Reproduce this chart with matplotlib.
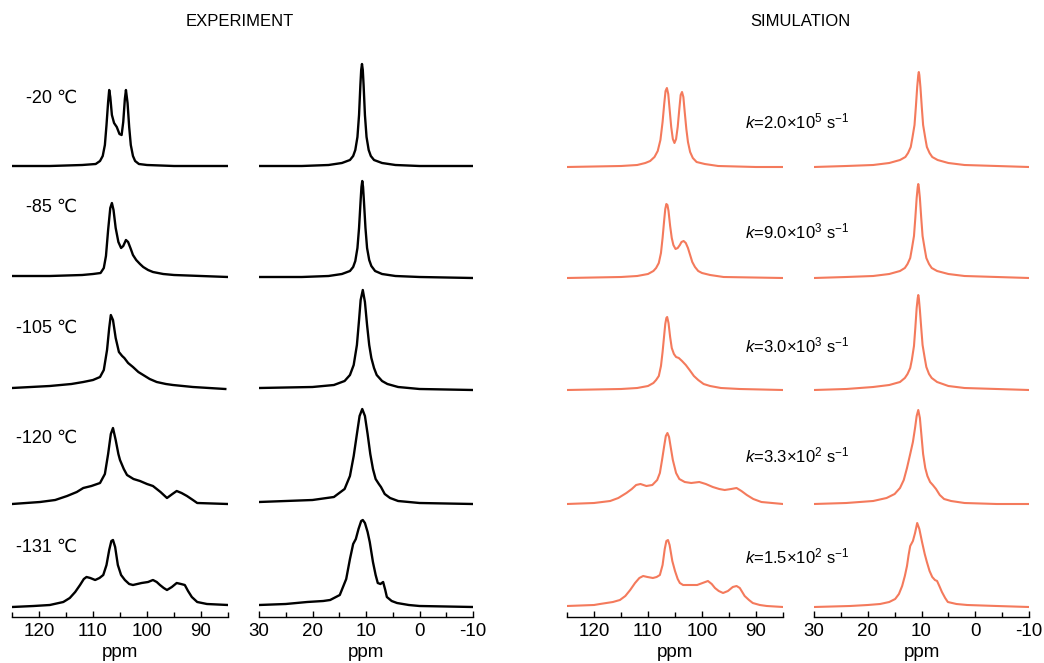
import matplotlib
matplotlib.use('Agg')
import matplotlib.pyplot as plt
from matplotlib.ticker import MultipleLocator

plt.rcParams['font.family'] = ['Liberation Sans', 'DejaVu Sans']
plt.rcParams['mathtext.fontset'] = 'custom'
plt.rcParams['mathtext.rm'] = 'Liberation Sans'
plt.rcParams['mathtext.it'] = 'Liberation Sans:italic'
plt.rcParams['axes.unicode_minus'] = False

# row labels
temps = ['-20 \u2103', '-85 \u2103', '-105 \u2103', '-120 \u2103', '-131 \u2103']
rates = ['$k$=2.0\u00d710$^{5}$ s$^{-1}$', '$k$=9.0\u00d710$^{3}$ s$^{-1}$',
         '$k$=3.0\u00d710$^{3}$ s$^{-1}$', '$k$=3.3\u00d710$^{2}$ s$^{-1}$',
         '$k$=1.5\u00d710$^{2}$ s$^{-1}$']

# spectra: (ppm, height)
# experiment, 125..85 ppm
exp_a_20 = [(125, 1), (118, 1), (112, 2), (109.5, 3), (108.7, 6), (108.2, 11), (107.8, 22),
            (107.5, 42), (107.2, 65), (107.0, 77), (106.8, 70), (106.5, 52), (106.1, 44),
            (105.6, 40), (105.1, 33), (104.7, 32), (104.4, 45), (104.1, 68), (103.9, 77),
            (103.6, 64), (103.3, 40), (103.0, 22), (102.6, 11), (102.2, 6), (101.5, 3),
            (100, 2), (95, 1), (85, 1)]
exp_a_85 = [(125, 2), (118, 2), (112, 3), (110, 4), (108.6, 5), (108.0, 10), (107.6, 22),
            (107.2, 48), (106.8, 70), (106.5, 75), (106.2, 68), (105.8, 50), (105.3, 36),
            (104.8, 30), (104.4, 32), (103.9, 38), (103.5, 36), (103, 29), (102.6, 23),
            (102, 18), (101.3, 14), (100.7, 11), (99.8, 8), (98.9, 6), (97, 4), (95, 3),
            (90, 2), (85, 1)]
exp_a_105 = [(125, 2), (118, 4), (114, 6), (111.8, 8), (110, 10), (108.7, 13), (108, 20),
             (107.4, 40), (107, 62), (106.7, 75), (106.3, 70), (105.8, 52), (105.2, 38),
             (104.6, 34), (104.2, 32), (103.5, 27), (102.6, 23), (101.6, 18), (100.7, 15),
             (99.5, 11), (98.2, 8), (96.5, 6), (95.2, 5), (91.5, 3), (85.5, 1)]
exp_a_120 = [(125, 0), (119.8, 2), (117, 4), (114.8, 8), (113, 12), (111.8, 16), (110.3, 18),
             (108.7, 21), (107.8, 30), (107.2, 50), (106.7, 70), (106.3, 76), (105.8, 64),
             (105.3, 50), (105, 44), (104.3, 35), (103.7, 29), (102.5, 25), (101.3, 23),
             (100, 20), (98.9, 18), (97.5, 12), (96.3, 6), (95.3, 10), (94.5, 13), (93.6, 11),
             (92.6, 8), (91.5, 4), (90.7, 1), (85, 0)]
exp_a_131 = [(125, 0), (121, 1), (118, 2), (115.5, 5), (114.3, 9), (113.3, 15), (112.4, 22),
             (111.7, 28), (111.2, 30), (110.5, 29), (109.6, 27), (108.8, 29), (108.1, 32),
             (107.5, 42), (107.0, 57), (106.6, 66), (106.3, 67), (105.9, 60), (105.4, 42),
             (104.8, 32), (104.1, 27), (103.3, 23), (102.6, 22), (101.8, 23), (101, 24),
             (99.8, 25), (98.9, 27), (98.2, 25), (97.6, 22), (96.9, 19), (96.3, 17), (95.4, 20),
             (94.5, 24), (93.7, 23), (93, 22), (92.4, 16), (91.7, 10), (90.7, 5), (88.9, 3),
             (85, 2)]

# experiment, 30..-10 ppm
exp_b_20 = [(30, 1), (22, 1), (17, 2), (14.5, 4), (13, 7), (12.4, 11), (12, 17), (11.6, 30),
            (11.3, 52), (11.05, 82), (10.9, 97), (10.75, 103), (10.6, 97), (10.45, 82),
            (10.2, 52), (9.9, 30), (9.5, 17), (9.1, 11), (8.5, 7), (7, 4), (4.5, 2), (0, 1),
            (-10, 1)]
exp_b_85 = [(30, 1), (22, 1), (17, 2), (14.5, 4), (13, 7), (12.4, 11), (12, 17), (11.6, 30),
            (11.3, 50), (11.0, 78), (10.85, 91), (10.7, 97), (10.55, 91), (10.4, 78),
            (10.1, 50), (9.8, 30), (9.4, 18), (9, 12), (8.3, 7), (7, 4), (4.5, 2), (0, 1),
            (-10, 0)]
exp_b_105 = [(30, 2), (20, 3), (16, 5), (14, 9), (13, 15), (12.3, 25), (11.7, 45), (11.3, 70),
             (11, 90), (10.6, 100), (10.2, 88), (9.8, 65), (9.4, 45), (9, 32), (8.5, 22),
             (8, 15), (7, 9), (6, 6), (4, 3), (0, 1), (-10, 0)]
exp_b_120 = [(30, 2), (20, 4), (16, 7), (14, 15), (13, 28), (12.3, 48), (11.7, 70), (11.2, 88),
             (10.7, 95), (10.2, 88), (9.7, 70), (9.2, 50), (8.7, 35), (8.2, 25), (7.6, 20),
             (7.2, 17), (6.5, 10), (5.5, 6), (4, 3), (0, 1), (-10, 0)]
exp_b_131 = [(30, 2), (25, 3), (21, 5), (18, 6), (16.7, 7), (14.9, 12), (13.7, 28), (13, 48),
             (12.4, 63), (11.9, 68), (11.4, 78), (10.9, 86), (10.6, 87), (10.2, 84), (9.7, 75),
             (9.3, 65), (8.7, 45), (8.2, 32), (7.8, 24), (7.3, 23), (6.8, 25), (6.4, 17),
             (6.1, 10), (5.2, 6), (4.2, 4), (2, 2), (0, 1), (-10, 0)]

# simulation, 125..85 ppm
sim_a_1 = [(125, 0), (115, 1), (112, 2), (110.5, 4), (109.6, 6), (108.8, 10), (108.2, 16),
           (107.7, 27), (107.3, 45), (107, 63), (106.75, 76), (106.5, 79), (106.25, 73),
           (106, 58), (105.7, 40), (105.4, 28), (105.1, 24), (104.8, 28), (104.5, 40),
           (104.2, 58), (103.95, 72), (103.7, 75), (103.45, 70), (103.2, 55), (102.9, 38),
           (102.6, 25), (102.2, 15), (101.7, 9), (101, 5), (99.5, 3), (97, 1), (90, 0), (85, 0)]
sim_a_2 = [(125, 0), (115, 1), (112, 2), (110, 4), (109, 7), (108.5, 10), (108, 15),
           (107.6, 25), (107.3, 40), (107, 58), (106.8, 69), (106.6, 74), (106.4, 73),
           (106.2, 67), (105.9, 52), (105.6, 40), (105.3, 33), (104.9, 29), (104.5, 30),
           (104.1, 33), (103.8, 36), (103.4, 37), (103, 35), (102.6, 30), (102.2, 23),
           (101.8, 16), (101.3, 11), (100.7, 7), (100, 5), (98.5, 3), (96, 1), (85, 0)]
sim_a_3 = [(125, 0), (115, 1), (112, 2), (110, 4), (109, 7), (108.5, 10), (108, 14),
           (107.6, 24), (107.3, 38), (107, 55), (106.8, 66), (106.6, 72), (106.45, 73),
           (106.2, 67), (105.9, 53), (105.6, 42), (105.2, 36), (104.8, 33), (104.3, 32),
           (103.7, 29), (103, 25), (102.3, 20), (101.5, 14), (100.7, 10), (99.7, 6),
           (98.5, 4), (96.5, 2), (93, 1), (85, 0)]
sim_a_4 = [(125, 0), (120, 1), (117, 3), (115.5, 6), (114, 11), (113, 15), (112.2, 19),
           (111.4, 20), (110.3, 18), (109.2, 19), (108.3, 24), (107.8, 31), (107.4, 44),
           (107.0, 58), (106.7, 68), (106.4, 71), (106.1, 67), (105.8, 57), (105.4, 44),
           (104.8, 31), (104.2, 25), (103.2, 22), (102, 21), (100.5, 22), (99.3, 20), (98, 17),
           (96.8, 15), (95.8, 14), (94.6, 15), (93.6, 16), (92.7, 13), (91.7, 9), (90.5, 5),
           (89, 2), (87, 1), (85, 0)]
sim_a_5 = [(125, 1), (120, 2), (118.9, 3), (116.5, 5), (115.2, 7), (114.2, 11), (113.3, 17),
           (112.4, 24), (111.6, 29), (110.9, 31), (110.1, 30), (109.1, 29), (108.4, 30),
           (107.8, 32), (107.3, 42), (106.9, 58), (106.6, 66), (106.3, 67), (106, 62),
           (105.5, 46), (105, 36), (104.5, 28), (104.1, 24), (103.5, 22), (102.8, 22),
           (101.8, 22), (100.9, 22), (99.9, 24), (98.9, 26), (98.2, 23), (97.6, 19), (96.9, 16),
           (96.1, 14), (95.2, 16), (94.3, 20), (93.6, 21), (93, 19), (92.1, 11), (91.3, 7),
           (90.6, 4), (89.3, 2), (88, 1), (85, 0)]

# simulation, 30..-10 ppm
sim_b_1 = [(30, 0), (24, 1), (19, 2), (16, 4), (14, 7), (13, 10), (12.5, 14), (12, 20),
           (11.7, 29), (11.3, 42), (11.05, 60), (10.8, 80), (10.6, 92), (10.5, 95), (10.4, 92),
           (10.2, 80), (9.95, 60), (9.7, 42), (9.3, 29), (9, 20), (8.5, 14), (8, 10), (7, 7),
           (5, 4), (2, 2), (-4, 1), (-10, 0)]
sim_b_2 = [(30, 0), (24, 1), (19, 2), (16, 4), (14, 7), (13.1, 10), (12.6, 14), (12.1, 20),
           (11.8, 29), (11.4, 42), (11.15, 60), (10.9, 80), (10.7, 91), (10.6, 94), (10.5, 91),
           (10.3, 80), (10.05, 60), (9.8, 42), (9.4, 29), (9.1, 20), (8.6, 14), (8.1, 10),
           (7.1, 7), (5, 4), (2, 2), (-4, 1), (-10, 0)]
sim_b_3 = [(30, 0), (24, 1), (19, 3), (16, 5), (14, 8), (13.1, 12), (12.6, 16), (12.1, 22),
           (11.8, 30), (11.4, 44), (11.15, 62), (10.9, 82), (10.7, 92), (10.6, 95), (10.5, 92),
           (10.3, 80), (10.05, 62), (9.8, 45), (9.4, 32), (9.1, 23), (8.6, 16), (8.1, 12),
           (7.1, 8), (5, 4), (2, 2), (-4, 1), (-10, 0)]
sim_b_4 = [(30, 0), (24, 1), (19, 3), (16.5, 6), (15, 10), (14, 16), (13.3, 24), (12.7, 36),
           (12.1, 50), (11.6, 62), (11.2, 76), (10.9, 88), (10.6, 94), (10.3, 86), (10, 68),
           (9.7, 50), (9.3, 36), (8.9, 28), (8.4, 22), (7.9, 19), (7.3, 15), (6.6, 9), (5.8, 5),
           (4.5, 3), (2, 1), (-4, 0), (-10, 0)]
sim_b_5 = [(30, 0), (23.3, 1), (20, 2), (17.7, 3), (16, 5), (14.9, 8), (14.2, 13), (13.6, 21),
           (13.1, 31), (12.7, 41), (12.4, 52), (12.1, 61), (11.6, 66), (11.2, 74), (10.8, 84),
           (10.4, 78), (9.9, 65), (9.4, 53), (9.0, 45), (8.5, 36), (8.0, 30), (7.5, 27),
           (7.1, 26), (6.6, 20), (6.2, 15), (5.6, 9), (5.1, 5), (3.5, 3), (1.5, 2), (-4, 1),
           (-10, 0)]

# stacking: baseline of each row above the ppm axis (pixels)
row_base = [450, 339, 227, 113, 10]

W, H = 1044, 663
fig = plt.figure(figsize=(W / 100, H / 100), dpi=100)

panels = [
    (12, 228, (125, 85), [exp_a_20, exp_a_85, exp_a_105, exp_a_120, exp_a_131], 'black', 1.7),
    (259, 473, (30, -10), [exp_b_20, exp_b_85, exp_b_105, exp_b_120, exp_b_131], 'black', 1.7),
    (567, 783, (125, 85), [sim_a_1, sim_a_2, sim_a_3, sim_a_4, sim_a_5], '#f47a5c', 1.5),
    (814, 1029, (30, -10), [sim_b_1, sim_b_2, sim_b_3, sim_b_4, sim_b_5], '#f47a5c', 1.5),
]

ax_top, ax_bot = 40, 617
for x0, x1, xl, spectra, col, lw in panels:
    ax = fig.add_axes([x0 / W, 1 - ax_bot / H, (x1 - x0) / W, (ax_bot - ax_top) / H])
    for spec, base in zip(spectra, row_base):
        ppm = [p for p, h in spec]
        hh = [h + base for p, h in spec]
        ax.plot(ppm, hh, color=col, lw=lw, solid_joinstyle='round')
    ax.set_xlim(*xl)
    ax.set_ylim(0, ax_bot - ax_top)
    for s in ['top', 'left', 'right']:
        ax.spines[s].set_visible(False)
    ax.spines['bottom'].set_linewidth(1.0)
    ax.set_yticks([])
    ax.xaxis.set_major_locator(MultipleLocator(10))
    ax.xaxis.set_minor_locator(MultipleLocator(5))
    ax.tick_params(axis='x', which='major', direction='in', length=4.5, width=1.0,
                   labelsize=13.5, pad=4)
    ax.tick_params(axis='x', which='minor', direction='in', length=3.5, width=1.0)
    ax.patch.set_alpha(0)
    fig.text((x0 + x1) / 2 / W, 1 - 657 / H, 'ppm', ha='center', va='baseline', fontsize=13.5)

fig.text(240 / W, 1 - 26 / H, 'EXPERIMENT', ha='center', va='baseline', fontsize=12)
fig.text(800 / W, 1 - 26 / H, 'SIMULATION', ha='center', va='baseline', fontsize=12)

temp_y = [103, 212, 333, 443, 552]
for t, y in zip(temps, temp_y):
    fig.text(77 / W, 1 - y / H, t, ha='right', va='baseline', fontsize=13)

rate_y = [128, 238, 352, 462, 563]
for r, y in zip(rates, rate_y):
    fig.text(745 / W, 1 - y / H, r, ha='left', va='baseline', fontsize=12)

fig.savefig('out.png', dpi=100)
